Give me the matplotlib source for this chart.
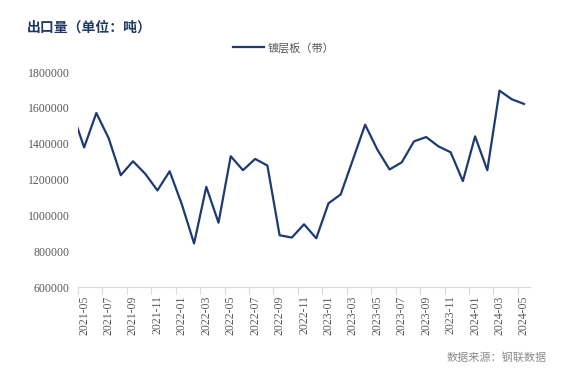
import numpy as np
import matplotlib.pyplot as plt

plt.rcParams['font.family'] = ['Noto Sans CJK SC', 'DejaVu Sans']

# monthly export volume, tonnes; the first month sits just left of the axis and is clipped
months = ['2021-04',
          '2021-05', '2021-06', '2021-07', '2021-08', '2021-09', '2021-10', '2021-11', '2021-12',
          '2022-01', '2022-02', '2022-03', '2022-04', '2022-05', '2022-06', '2022-07', '2022-08',
          '2022-09', '2022-10', '2022-11', '2022-12',
          '2023-01', '2023-02', '2023-03', '2023-04', '2023-05', '2023-06', '2023-07', '2023-08',
          '2023-09', '2023-10', '2023-11', '2023-12',
          '2024-01', '2024-02', '2024-03', '2024-04', '2024-05']
coated = [1580000,
          1379000, 1571000, 1432000, 1224000, 1302000, 1232000, 1139000, 1246000,
          1061000, 843000, 1159000, 959000, 1330000, 1252000, 1315000, 1278000,
          889000, 876000, 950000, 872000,
          1067000, 1117000, 1311000, 1506000, 1367000, 1256000, 1296000, 1413000,
          1437000, 1385000, 1352000, 1191000,
          1441000, 1252000, 1696000, 1648000, 1622000]
yticks = [600000, 800000, 1000000, 1200000, 1400000, 1600000, 1800000]

fig = plt.figure(figsize=(5.87, 3.78), dpi=100)
ax = fig.add_axes([0.1329, 0.2407, 0.7701, 0.5688])

x = np.arange(len(months))
ax.plot(x, coated, color='#1d3b73', lw=1.6, label='镀层板（带）')

ax.set_xlim(0.5, 37.5)
ax.set_ylim(600000, 1800000)

# labels on every other month, tick marks on category boundaries
lab_pos = x[1::2]
ax.set_xticks(lab_pos)
ax.set_xticklabels([months[i] for i in lab_pos], rotation=90, family='Liberation Serif',
                   fontsize=8.5, color='#595959')
ax.set_xticks(lab_pos - 0.5, minor=True)
ax.tick_params(axis='x', which='major', length=0, pad=6)
ax.tick_params(axis='x', which='minor', length=5, color='#d9d9d9', width=0.8)

ax.set_yticks(yticks)
ax.set_yticklabels([str(v) for v in yticks], family='Liberation Serif', fontsize=8.5, color='#595959')
ax.tick_params(axis='y', length=0, pad=6)

for s in ['top', 'right', 'left']:
    ax.spines[s].set_visible(False)
ax.spines['bottom'].set_color('#d9d9d9')
ax.spines['bottom'].set_linewidth(0.8)

fig.text(0.046, 0.928, '出口量（单位：吨）', fontsize=10, fontweight='bold', color='#1f3864',
         va='center', ha='left')
ax.legend(loc='center', bbox_to_anchor=(0.455, 1.112), frameon=False, fontsize=8,
          labelcolor='#595959', handlelength=2.8, handletextpad=0.4)
fig.text(0.932, 0.055, '数据来源：钢联数据', fontsize=8, color='#8c8c8c', ha='right', va='center')

fig.savefig('out.png', dpi=100)
